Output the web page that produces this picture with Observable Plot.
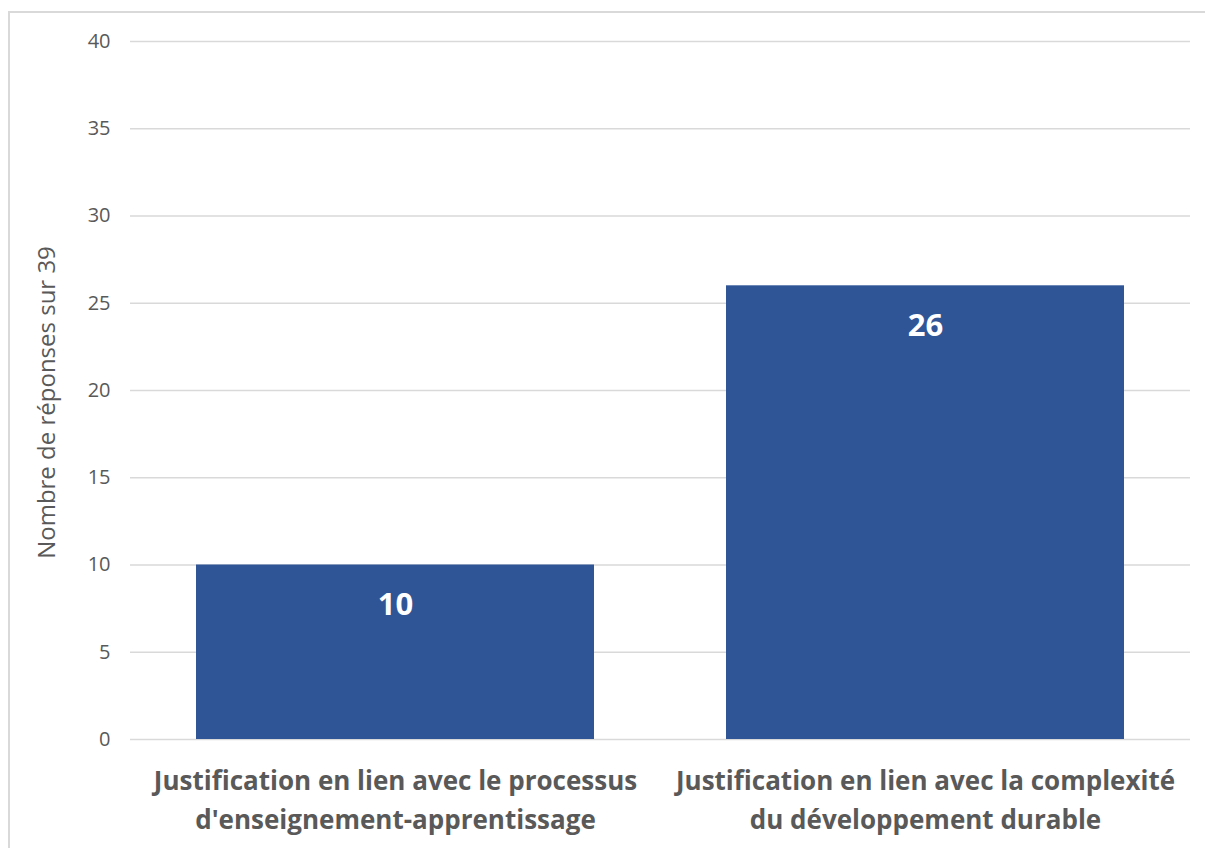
<!DOCTYPE html>
<html><head><meta charset="utf-8">
<script src="https://cdn.jsdelivr.net/npm/d3@7"></script>
<script src="https://cdn.jsdelivr.net/npm/@observablehq/plot@0.6"></script>
<style>
body{margin:0;background:#fff;width:1205px;height:848px;overflow:hidden;position:relative;font-family:"Open Sans",sans-serif;}
#frame{position:absolute;left:8px;top:11px;width:1210px;height:850px;border:2px solid #d9d9d9;box-sizing:border-box;}
#chart{position:absolute;left:0;top:0;}
</style></head><body>
<div id="frame"></div>
<div id="chart"></div>
<script>
const categories = ["Justification en lien avec le processus\nd'enseignement-apprentissage", "Justification en lien avec la complexité\ndu développement durable"];
const values = [10, 26];
const yTicks = [0, 5, 10, 15, 20, 25, 30, 35, 40];
const yLabel = "Nombre de réponses sur 39";

const data = categories.map((c, i) => ({cat: c, v: values[i]}));

const plot = Plot.plot({
  width: 1205, height: 848,
  marginLeft: 130, marginRight: 15, marginTop: 41, marginBottom: 109,
  style: {fontFamily: "Open Sans, sans-serif", background: "transparent", overflow: "visible"},
  x: {domain: categories, paddingInner: 0.25, paddingOuter: 0.125, label: null},
  y: {domain: [0, 40], label: null},
  marks: [
    Plot.gridY(yTicks, {stroke: "#d9d9d9", strokeOpacity: 1, strokeWidth: 1.5}),
    Plot.axisY(yTicks, {tickSize: 0, tickPadding: 20, fontSize: 20, fill: "#595959", label: null}),
    Plot.barY(data, {x: "cat", y: "v", fill: "#2f5597"}),
    Plot.text(data, {x: "cat", y: "v", text: d => String(d.v), dy: 40, fill: "white", fontSize: 31, fontWeight: "bold"}),
    Plot.axisX({tickSize: 0, tickPadding: 23, fontSize: 26, fontWeight: "bold", fill: "#595959", lineHeight: 1.5, label: null}),
    Plot.text([yLabel], {frameAnchor: "left", textAnchor: "middle", dx: -83, dy: 12, rotate: -90, fontSize: 24, fill: "#595959", text: d => d})
  ]
});
document.getElementById("chart").appendChild(plot);
</script>
</body></html>
